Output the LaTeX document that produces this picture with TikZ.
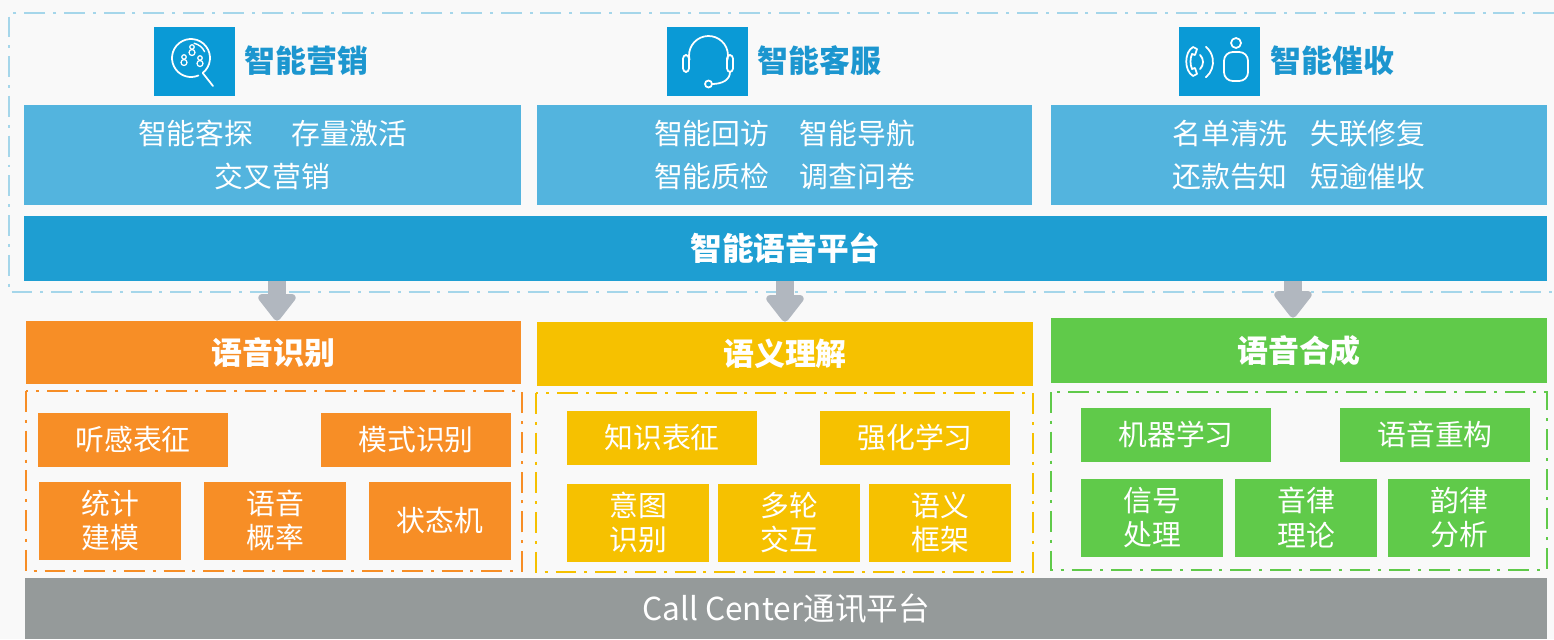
\documentclass[tikz,border=0pt]{standalone}
\usepackage{fontspec}
\setmainfont{Noto Sans CJK SC}
\usetikzlibrary{arrows.meta}
\definecolor{bgc}{HTML}{F9F9F9}
\definecolor{frameblue}{HTML}{A5D6EA}
\definecolor{iconblue}{HTML}{0A9AD6}
\definecolor{titleblue}{HTML}{1C96CF}
\definecolor{svblue}{HTML}{53B4DE}
\definecolor{platblue}{HTML}{1E9ED2}
\definecolor{orng}{HTML}{F78E26}
\definecolor{yelw}{HTML}{F6C100}
\definecolor{grn}{HTML}{60CA4A}
\definecolor{barGray}{HTML}{959A9A}
\definecolor{arrowgray}{HTML}{B1B7BF}
\tikzset{
  svbox/.style={fill=svblue,text=white,minimum height=2cm,inner sep=0pt,align=center,font=\fontsize{16.4}{24.4}\selectfont},
  hdbox/.style={text=white,minimum height=1.28cm,minimum width=9.92cm,inner sep=0pt,font=\fontsize{17.6}{20}\selectfont\bfseries},
  cell/.style={text=white,inner sep=0pt,align=center,font=\fontsize{16.4}{19.8}\selectfont},
  widebox/.style={cell,minimum width=3.8cm,minimum height=1.08cm},
  tallbox/.style={cell,minimum width=2.84cm,minimum height=1.56cm},
  iconbox/.style={fill=iconblue,minimum width=1.62cm,minimum height=1.38cm,inner sep=0pt},
  headline/.style={anchor=west,inner sep=0pt,text=titleblue,font=\fontsize{17.6}{20}\selectfont\bfseries},
  dashframe/.style={line width=1.5pt,dash pattern=on 11.9pt off 4.5pt on 1.7pt off 4.5pt},
  fatarrow/.style={draw=arrowgray,line width=0.36cm,-{Triangle[width=0.86cm,length=0.58cm,round]}},
  glyph/.style={draw=white,line width=1pt,line cap=round,line join=round}
}
\begin{document}
\begin{tikzpicture}[x=0.02cm,y=-0.02cm]
\path[use as bounding box,fill=bgc] (0,0) rectangle (1554,639);
% upper frame, open on the right
\draw[dashframe,draw=frameblue,line width=1.4pt] (1554,13) -| (9,292) -- (1554,292);

\node[iconbox] (ic1) at (194.5,61.5) {};
\node[iconbox] (ic2) at (707,61.5) {};
\node[iconbox] (ic3) at (1219,61.5) {};
\node[headline] (tt1) at (244,61) {智能营销};
\node[headline] (tt2) at (757,61) {智能客服};
\node[headline] (tt3) at (1270,61) {智能催收};

% icon 1: search people
\draw[glyph] (191,58) ++(-52:0.38cm) coordinate (hs) arc[start angle=-52,end angle=293,radius=0.38cm];
\draw[glyph] (hs) -- (213,86);
\draw[glyph,line width=0.8pt] (191,58) ++(25:0.3cm) arc[start angle=25,end angle=78,radius=0.3cm];
\foreach \a/\b in {192/47,184/57,200/58}{
  \draw[glyph,line width=0.7pt] (\a,\b) circle (0.045cm);
  \draw[glyph,line width=0.7pt] (\a,\b+5.5) circle (0.06cm);
}
% icon 2: headset
\draw[glyph] (708.5,55.5) ++(193:0.39cm) arc[start angle=193,end angle=-13,radius=0.39cm];
\draw[glyph,rounded corners=2pt] (683,55) rectangle (689,72);
\draw[glyph,rounded corners=2pt] (727,55) rectangle (733,72);
\draw[glyph] (730,72) .. controls (730,80) and (722,84) .. (712,84);
\draw[glyph] (708.5,84) circle (0.07cm);
% icon 3: phone and person
\draw[glyph] (1197,49) -- (1193,47) .. controls (1184,52) and (1184,71) .. (1193,76) -- (1197,74) -- (1195,68) -- (1192,69) .. controls (1190,65) and (1190,58) .. (1192,54) -- (1195,55) -- cycle;
\draw[glyph] (1193,62) ++(-45:0.2cm) arc[start angle=-45,end angle=45,radius=0.2cm];
\draw[glyph] (1193,62) ++(-50:0.4cm) arc[start angle=-50,end angle=50,radius=0.4cm];
\draw[glyph] (1236,43) circle (0.1cm);
\draw[glyph,rounded corners=5pt] (1224,81) -- (1224,52) -- (1248,52) -- (1248,81) -- cycle;

\node[svbox,minimum width=9.94cm] (sv1) at (272.5,155) {智能客探\hspace{1.33em}存量激活\\交叉营销};
\node[svbox,minimum width=9.9cm] (sv2) at (784.5,155) {智能回访\hspace{1.05em}智能导航\\智能质检\hspace{1.05em}调查问卷};
\node[svbox,minimum width=9.92cm] (sv3) at (1299,155) {名单清洗\hspace{0.78em}失联修复\\还款告知\hspace{0.78em}短逾催收};

\node[hdbox,fill=platblue,minimum width=30.46cm,minimum height=1.3cm,font=\fontsize{18}{20}\selectfont\bfseries] (plat) at (785.5,248.5) {智能语音平台};

\node[hdbox,fill=orng,minimum width=9.9cm,minimum height=1.26cm] (hd1) at (273.5,352.5) {语音识别};
\node[hdbox,fill=yelw] (hd2) at (785,354) {语义理解};
\node[hdbox,fill=grn,minimum height=1.3cm] (hd3) at (1299,350.5) {语音合成};

\draw[fatarrow] ([xshift=0.07cm]plat.south -| hd1.north) -- ([xshift=0.07cm]hd1.north);
\draw[fatarrow] (plat.south -| hd2.north) -- (hd2.north);
\draw[fatarrow] ([xshift=-0.12cm]plat.south -| hd3.north) -- ([xshift=-0.12cm]hd3.north);

% dash-dot frames
\draw[dashframe,draw=orng] (26,391) rectangle (522,571);
\draw[dashframe,draw=yelw] (536,393) rectangle (1033,572);
\draw[dashframe,draw=grn] (1051,392) rectangle (1547,570);

\node[widebox,fill=orng] (o1) at (133,440) {听感表征};
\node[widebox,fill=orng] (o2) at (416,440) {模式识别};
\node[tallbox,fill=orng] (o3) at (110,520.5) {统计\\建模};
\node[tallbox,fill=orng] (o4) at (275,520.5) {语音\\概率};
\node[tallbox,fill=orng] (o5) at (440,520.5) {状态机};

\node[widebox,fill=yelw] (y1) at (662,438) {知识表征};
\node[widebox,fill=yelw] (y2) at (915,438) {强化学习};
\node[tallbox,fill=yelw] (y3) at (638,522.5) {意图\\识别};
\node[tallbox,fill=yelw] (y4) at (789,522.5) {多轮\\交互};
\node[tallbox,fill=yelw] (y5) at (940,522.5) {语义\\框架};

\node[widebox,fill=grn] (g1) at (1176,434.5) {机器学习};
\node[widebox,fill=grn] (g2) at (1435,434.5) {语音重构};
\node[tallbox,fill=grn] (g3) at (1152,517.5) {信号\\处理};
\node[tallbox,fill=grn] (g4) at (1306,517.5) {音律\\理论};
\node[tallbox,fill=grn] (g5) at (1459,517.5) {韵律\\分析};

\node[hdbox,fill=barGray,minimum width=30.44cm,minimum height=1.22cm,font=\fontsize{18}{20}\selectfont] (cc) at (786,608.5) {Call Center通讯平台};
\end{tikzpicture}
\end{document}
